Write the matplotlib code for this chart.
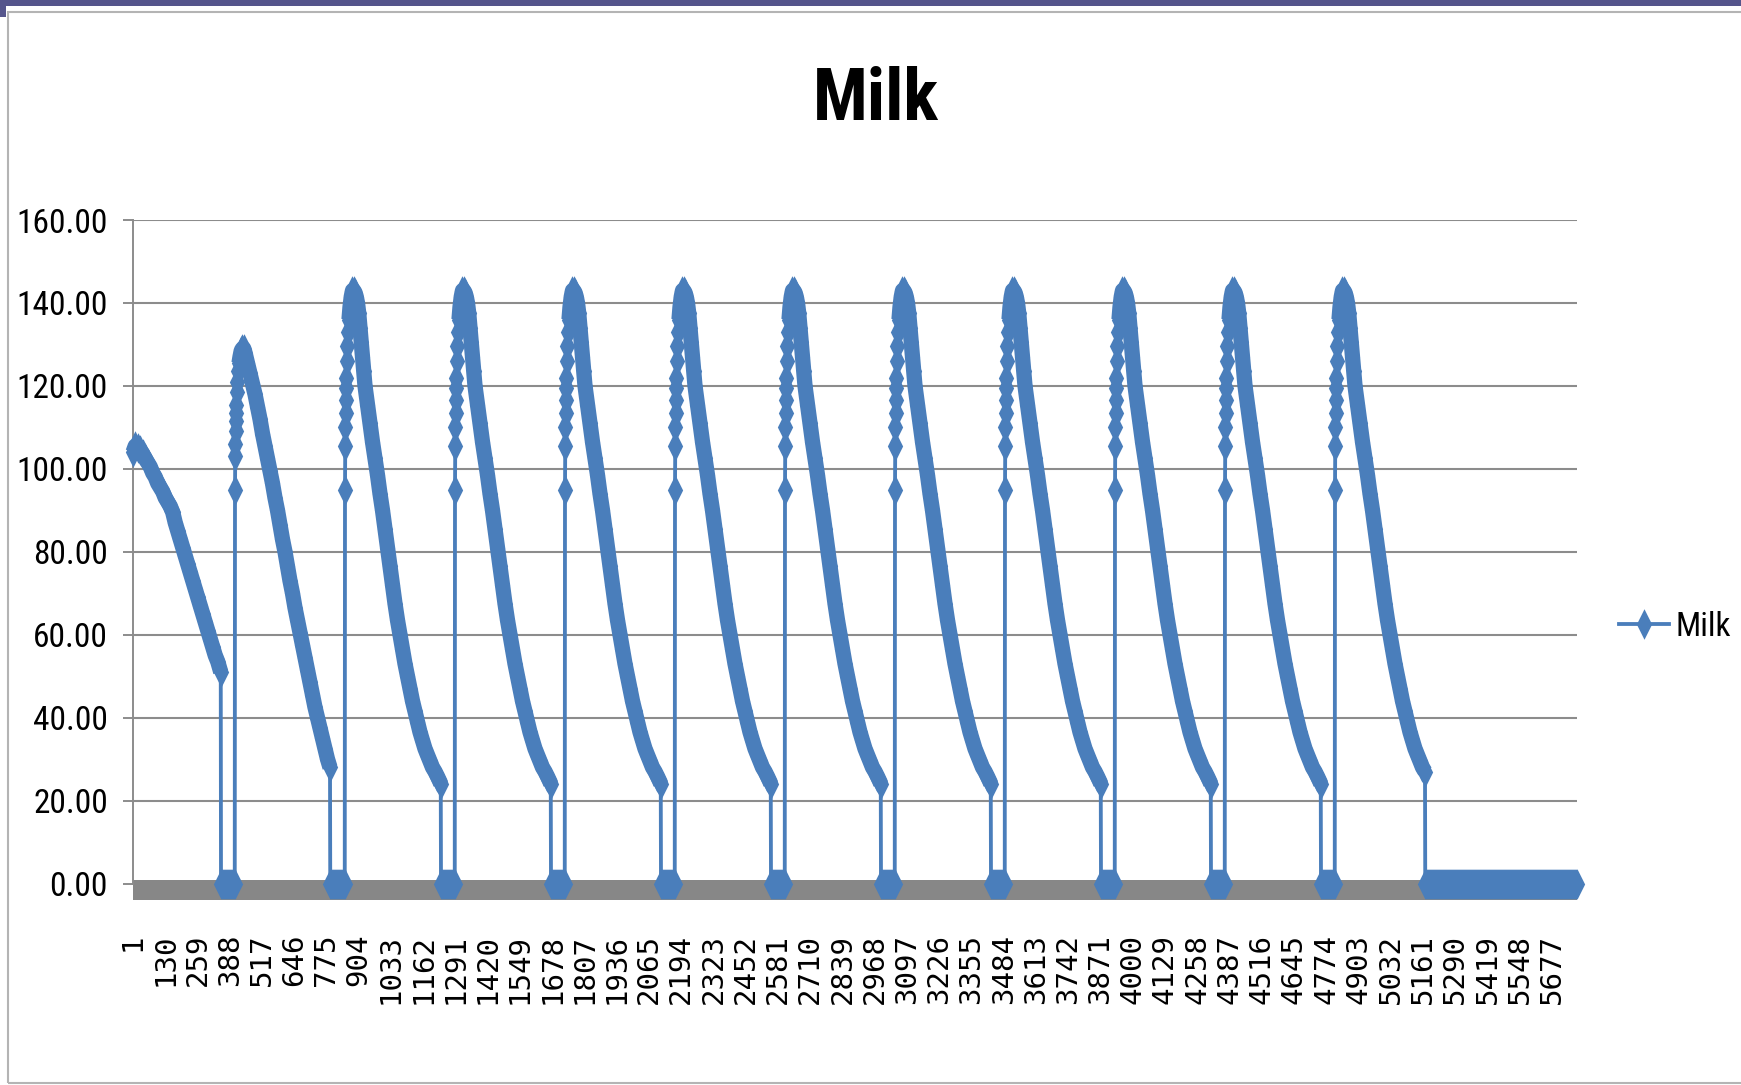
import matplotlib
matplotlib.use('Agg')
import matplotlib.pyplot as plt
import matplotlib.transforms as mtransforms
from matplotlib.patches import Rectangle
import numpy as np

# daily milk record, day index 1 .. n_days
n_days = 5777

# records start part way through a lactation
first_days = [1, 10, 20, 30, 40, 50, 60, 70, 80, 90, 100, 110, 120, 130, 140, 150, 160, 170,
              180, 190, 200, 210, 220, 230, 240, 250, 260, 270, 280, 290, 300, 310, 320, 330,
              340, 352]
first_milk = [104, 105.5, 105, 104.5, 103.5, 102.5, 101.5, 100.5, 99, 98, 96.5, 95.5, 94.5, 93,
              92, 91, 89.5, 87, 85, 83, 81, 79, 77, 75, 73, 71, 69, 67, 65, 63, 61, 59, 57, 55,
              53.5, 51]

# second lactation (lower peak), days after calving
second_rel = [0, 1, 2, 3, 4, 5, 6, 8, 10, 13, 16, 20, 25, 30, 35, 40, 50, 60, 70, 80, 90, 100,
              110, 120, 130, 140, 150, 160, 170, 180, 190, 200, 210, 220, 230, 240, 250, 260,
              270, 280, 290, 300, 310, 320, 330, 340, 350, 360, 370, 380]
second_milk = [95, 103, 106, 109, 111.5, 113.5, 115.5, 118.5, 121, 123.5, 125.5, 127, 128.5, 129,
               129, 128, 125.5, 123, 120.5, 118, 115, 112, 108.5, 105.5, 102.5, 99.5, 96.5, 93,
               90, 86.5, 83, 80, 76.5, 73, 70, 66.5, 63.5, 60.5, 57.5, 54.5, 51.5, 48.5, 45.5,
               42.5, 40, 37.5, 35, 32.5, 30, 28]

# later lactations all follow the same curve, days after calving
lact_rel = [0, 1, 2, 3, 4, 5, 6, 8, 10, 13, 16, 20, 25, 30, 35, 40, 45, 50, 55, 60, 65, 70, 75,
            80, 90, 100, 110, 120, 130, 140, 150, 160, 170, 180, 190, 200, 210, 220, 230, 240,
            250, 260, 270, 280, 290, 300, 310, 320, 330, 340, 350, 360, 370, 380, 383]
lact_milk = [95, 105.5, 110, 113.5, 116.5, 119.5, 122, 126, 129.5, 133, 136, 139, 141.5, 143, 143,
             142.5, 141.5, 140, 137.5, 134, 130.5, 127, 123.5, 120, 115.5, 111, 106.5, 102.5,
             98.5, 94, 90, 85.5, 81, 76.5, 72, 67.5, 63.5, 60, 56.5, 53, 50, 47, 44, 41.5, 39,
             36.5, 34.5, 32.5, 31, 29.5, 28, 27, 25.8, 24.5, 24]

calving = [409, 849, 1289, 1729, 2169, 2609, 3049, 3489, 3929, 4369, 4809]
last_lact_len = 360

tick_labels = [1, 130, 259, 388, 517, 646, 775, 904, 1033, 1162, 1291, 1420, 1549, 1678, 1807,
               1936, 2065, 2194, 2323, 2452, 2581, 2710, 2839, 2968, 3097, 3226, 3355, 3484,
               3613, 3742, 3871, 4000, 4129, 4258, 4387, 4516, 4645, 4774, 4903, 5032, 5161,
               5290, 5419, 5548, 5677]

BLUE = '#4A7EBB'
GRID = '#8c8c8c'
narrow = ['Roboto Condensed', 'Noto Sans Condensed', 'Liberation Sans Narrow', 'DejaVu Sans']

# tall, slim diamond like the spreadsheet marker
SLIM_DIAMOND = [(0, 1), (0.5, 0), (0, -1), (-0.5, 0), (0, 1)]


def lactation(start, rel, milk, stop=None):
    d = []
    m = []
    for r, v in zip(rel, milk):
        if stop is not None and r > stop:
            break
        d.append(start + r)
        m.append(v)
    return d, m


def dry(first, last):
    d = list(range(first, last, 4)) + [last]
    return d, [0.0] * len(d)


xs = []
ys = []
under = []   # lactation stretches, stroked wide beneath the markers

xs += first_days
ys += first_milk
under.append((first_days, first_milk))
prev_end = first_days[-1]

for i, c in enumerate(calving):
    d, m = dry(prev_end + 1, c - 1)
    xs += d
    ys += m
    if i == 0:
        d, m = lactation(c, second_rel, second_milk)
    elif i == len(calving) - 1:
        d, m = lactation(c, lact_rel, lact_milk, stop=last_lact_len)
    else:
        d, m = lactation(c, lact_rel, lact_milk)
    xs += d
    ys += m
    under.append((d[10:], m[10:]))
    prev_end = d[-1]

d, m = dry(prev_end + 1, n_days)
xs += d
ys += m

fig = plt.figure(figsize=(17.41, 10.85), dpi=100)
ax = fig.add_axes([0.07639, 0.18571, 0.82941, 0.61152])

for d, m in under:
    ax.plot(d, m, color=BLUE, lw=11, solid_capstyle='butt', solid_joinstyle='round',
            clip_on=False, zorder=3)
ax.plot(xs, ys, color=BLUE, lw=2.75, marker=SLIM_DIAMOND, ms=22, mfc=BLUE, mec=BLUE, mew=0,
        clip_on=False, zorder=4, label='Milk')

# thick grey floor along the zero line
trans = mtransforms.blended_transform_factory(ax.transAxes, ax.transData)
ax.add_patch(Rectangle((0, -4.0), 1, 4.85, transform=trans, facecolor='#878787', lw=0,
                       clip_on=False, zorder=2.5))

ax.set_xlim(1, n_days)
ax.set_ylim(0, 160)
yt = np.arange(0, 161, 20)
ax.set_yticks(yt)
ax.set_yticklabels(['%.2f' % v for v in yt], fontfamily=narrow, fontstretch='condensed',
                   fontsize=24)
ax.set_xticks(tick_labels)
ax.set_xticklabels([str(t) for t in tick_labels], rotation=90, va='top', ha='center',
                   fontfamily='DejaVu Sans Mono', fontsize=21)
ax.tick_params(axis='y', length=7, width=1.4, color=GRID, pad=11)
ax.tick_params(axis='x', length=0, pad=36)
ax.yaxis.grid(True, color=GRID, lw=1.5)
ax.set_axisbelow(True)
for s in ['top', 'right', 'bottom']:
    ax.spines[s].set_visible(False)
ax.spines['left'].set_color(GRID)
ax.spines['left'].set_linewidth(1.4)

fig.text(876 / 1741, 1 - 100 / 1085, 'Milk', ha='center', va='center',
         fontfamily=narrow, fontstretch='condensed', fontweight='bold', fontsize=52)

fig.legend(loc='center left', bbox_to_anchor=(1619 / 1741, 1 - 627 / 1085), frameon=False,
           borderpad=0, borderaxespad=0, handlelength=1.5, handletextpad=0.2,
           prop={'family': narrow, 'stretch': 'condensed', 'size': 24})

# window frame round the chart
fig.add_artist(Rectangle((0, 1 - 6 / 1085), 1, 6 / 1085, transform=fig.transFigure,
                         facecolor='#55558c', lw=0))
fig.add_artist(Rectangle((0, 1 - 17 / 1085), 6 / 1741, 17 / 1085, transform=fig.transFigure,
                         facecolor='#55558c', lw=0))
fig.add_artist(Rectangle((8 / 1741, 2 / 1085), 1.0, 0.9871, transform=fig.transFigure,
                         fill=False, edgecolor='#b4b4b4', lw=1.5))

fig.savefig('out.png', dpi=100)
